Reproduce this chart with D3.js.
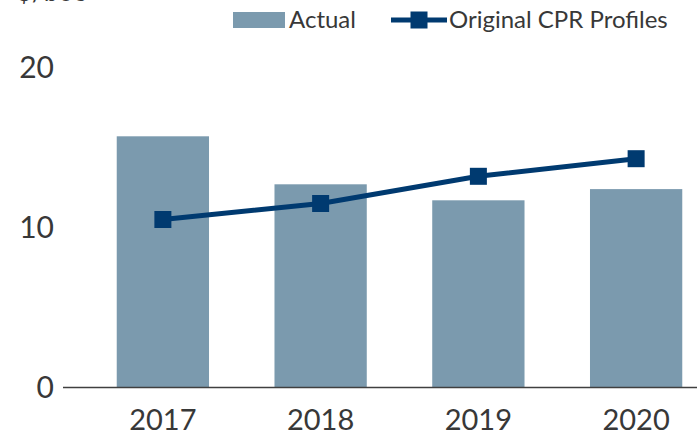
<!DOCTYPE html>
<html>
<head>
<meta charset="utf-8">
<script src="https://cdn.jsdelivr.net/npm/d3@7"></script>
<style>
  body { margin: 0; background: #fff; }
  svg { display: block; font-family: Lato, "Open Sans", sans-serif; }
</style>
</head>
<body>
<svg id="plot" width="697" height="433"></svg>
<script>
const width = 697;
const height = 433;

// data
const years = ["2017", "2018", "2019", "2020"];
const actual = [15.7, 12.7, 11.7, 12.4];
const cpr = [10.5, 11.5, 13.2, 14.3];
const yTicks = [0, 10, 20];

const barColor = "#7b9aae";
const lineColor = "#003a70";
const textColor = "#383838";

const svg = d3.select("#plot");

const x = d3.scaleBand()
  .domain(years)
  .range([84, 715])
  .paddingInner(0.415)
  .paddingOuter(0.2075);

const y = d3.scaleLinear()
  .domain([0, 20])
  .range([387.5, 67.5]);

const data = years.map((yr, i) => ({ year: yr, actual: actual[i], cpr: cpr[i] }));

// unit label, cut off at the top edge
svg.append("text")
  .attr("x", 17)
  .attr("y", 1)
  .attr("font-size", 26)
  .attr("fill", textColor)
  .text("$/boe");

// bars
svg.selectAll("rect.bar")
  .data(data)
  .enter()
  .append("rect")
  .attr("class", "bar")
  .attr("x", d => x(d.year))
  .attr("y", d => y(d.actual))
  .attr("width", x.bandwidth())
  .attr("height", d => y(0) - y(d.actual))
  .attr("fill", barColor);

// x axis line
svg.append("line")
  .attr("x1", 63)
  .attr("x2", width)
  .attr("y1", y(0))
  .attr("y2", y(0))
  .attr("stroke", "#404040")
  .attr("stroke-width", 1.5);

// y tick labels
svg.selectAll("text.ytick")
  .data(yTicks)
  .enter()
  .append("text")
  .attr("class", "ytick")
  .attr("x", 54)
  .attr("y", d => y(d))
  .attr("dy", "0.36em")
  .attr("text-anchor", "end")
  .attr("font-size", 30)
  .attr("fill", textColor)
  .text(d => d);

// x tick labels
svg.selectAll("text.xtick")
  .data(years)
  .enter()
  .append("text")
  .attr("class", "xtick")
  .attr("x", d => x(d) + x.bandwidth() / 2)
  .attr("y", 430)
  .attr("text-anchor", "middle")
  .attr("font-size", 29)
  .attr("fill", textColor)
  .text(d => d);

// line series
const line = d3.line()
  .x(d => x(d.year) + x.bandwidth() / 2)
  .y(d => y(d.cpr));

svg.append("path")
  .datum(data)
  .attr("d", line)
  .attr("fill", "none")
  .attr("stroke", lineColor)
  .attr("stroke-width", 5);

const mk = 17;
svg.selectAll("rect.marker")
  .data(data)
  .enter()
  .append("rect")
  .attr("class", "marker")
  .attr("x", d => x(d.year) + x.bandwidth() / 2 - mk / 2)
  .attr("y", d => y(d.cpr) - mk / 2)
  .attr("width", mk)
  .attr("height", mk)
  .attr("fill", lineColor);

// legend
const legend = svg.append("g");

legend.append("rect")
  .attr("x", 233)
  .attr("y", 12)
  .attr("width", 52)
  .attr("height", 16)
  .attr("fill", barColor);

legend.append("text")
  .attr("x", 289)
  .attr("y", 28)
  .attr("font-size", 24)
  .attr("fill", textColor)
  .text("Actual");

legend.append("line")
  .attr("x1", 391)
  .attr("x2", 447)
  .attr("y1", 20)
  .attr("y2", 20)
  .attr("stroke", lineColor)
  .attr("stroke-width", 5);

legend.append("rect")
  .attr("x", 419 - mk / 2)
  .attr("y", 20 - mk / 2)
  .attr("width", mk)
  .attr("height", mk)
  .attr("fill", lineColor);

legend.append("text")
  .attr("x", 449)
  .attr("y", 28)
  .attr("font-size", 24)
  .attr("fill", textColor)
  .text("Original CPR Profiles");
</script>
</body>
</html>
